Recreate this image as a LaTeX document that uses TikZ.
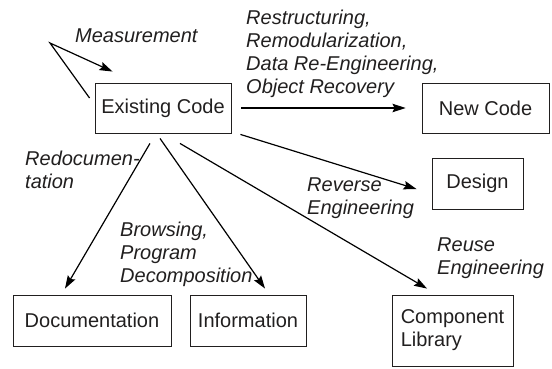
\documentclass[tikz,border=0pt]{standalone}
\usepackage{fontspec}
\setmainfont{Liberation Sans}
\usetikzlibrary{arrows.meta}
\definecolor{ink}{rgb}{0.13,0.12,0.12}
\begin{document}
\begin{tikzpicture}[x=1pt,y=-1pt,
  every node/.style={font=\fontsize{20}{23}\selectfont, text=ink},
  box/.style={draw=ink, line width=0.9pt, inner sep=0pt, align=center},
  lbl/.style={font=\fontsize{20}{23}\selectfont\itshape, inner sep=0pt, align=left, anchor=base west},
  arr/.style={draw=black, line width=1.2pt, -{Stealth[length=13pt,width=8.5pt,inset=2pt]}}]
\useasboundingbox (0,0) rectangle (552,369);

% boxes
\node[box, minimum width=136, minimum height=50] (ex)  at (163,108)   {Existing Code};
\node[box, minimum width=127, minimum height=50] (new) at (485.5,108) {New Code};
\node[box, minimum width=91,  minimum height=51] (des) at (477.5,183.5) {Design};
\node[box, minimum width=121, minimum height=71, align=left] (lib) at (452.5,330.5) {Component\\Library};
\node[box, minimum width=158, minimum height=51] (doc) at (92,320.5)  {Documentation};
\node[box, minimum width=116, minimum height=51] (inf) at (248,320.5) {Information};

% self loop
\coordinate (m) at (50,43);
\draw[arr, line join=miter] ([xshift=-5,yshift=10]ex.west) -- (m) -- ([xshift=18,yshift=11]ex.north west);

% connectors
\draw[arr, shorten <=10, shorten >=16] (ex.east) -- (new.west);
\draw[arr, shorten <=9.4, shorten >=15.7] ([yshift=1.8]ex.south east) -- ([yshift=-10.2]des.west);
\draw[arr, shorten <=19.7, shorten >=11.8] (ex.south) -- ([xshift=-15.3]lib.north);
\draw[arr, shorten <=6.1, shorten >=7.3] ([xshift=-6.5]ex.south) -- ([xshift=21.2]inf.north);
\draw[arr, shorten <=11.6, shorten >=6.9] ([xshift=-7.2]ex.south) -- ([xshift=-30.5]doc.north);

% labels (base anchor sits on the last line)
\node[lbl] (lmeas)  at (75,42.7)  {Measurement};
\node[lbl] (lrestr) at (246,93)   {Restructuring,\\Remodularization,\\Data Re-Engineering,\\Object Recovery};
\node[lbl] (lredoc) at (25,188.7) {Redocumen-\\tation};
\node[lbl] (lbrows) at (120,282)  {Browsing,\\Program\\Decomposition};
\node[lbl] (lrev)   at (307,214)  {Reverse\\Engineering};
\node[lbl] (lreuse) at (437,274.3) {Reuse\\Engineering};
\end{tikzpicture}
\end{document}
